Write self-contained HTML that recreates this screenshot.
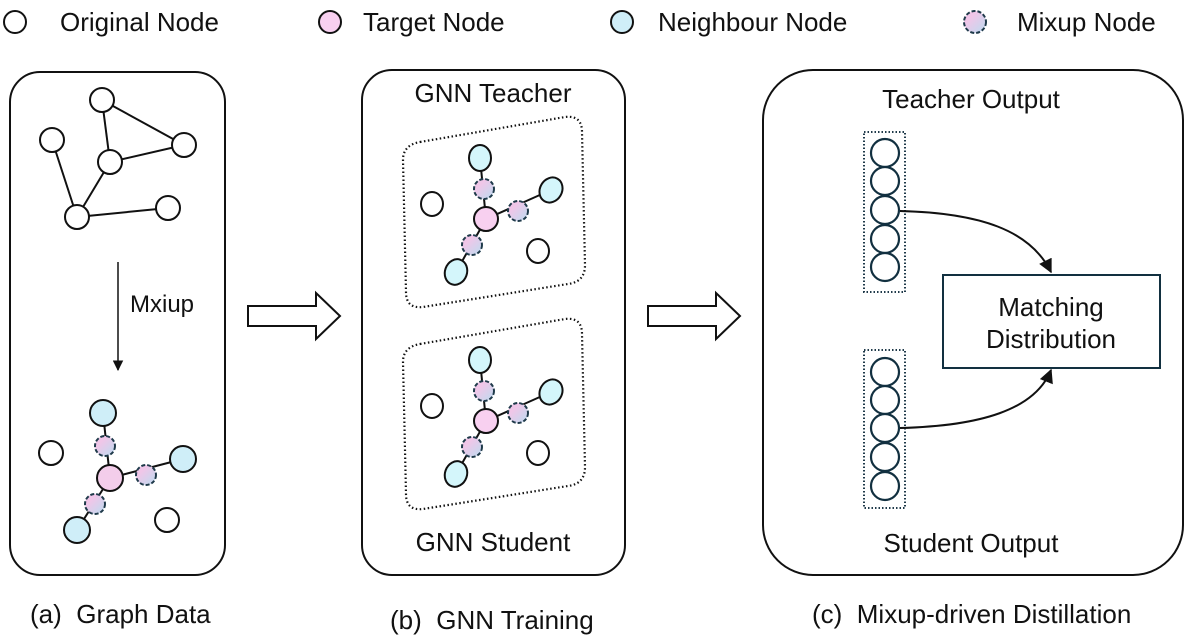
<!DOCTYPE html>
<html><head><style>
html,body{margin:0;padding:0;background:#fff}
svg text{font-family:"Liberation Sans",Arial,sans-serif;fill:#111}
</style></head><body>
<svg width="1194" height="638" viewBox="0 0 1194 638" xmlns="http://www.w3.org/2000/svg">
<defs>
<linearGradient id="mx" x1="0" y1="0" x2="1" y2="1">
<stop offset="0.3" stop-color="#f0c6e8"/><stop offset="1" stop-color="#bcdcf0"/>
</linearGradient>
<marker id="ah" viewBox="0 0 10 10" refX="9" refY="5" markerWidth="7" markerHeight="7" orient="auto"><path d="M0,0 L10,5 L0,10 z" fill="#111"/></marker>
<g id="star">
<line x1="480" y1="158" x2="486" y2="219" stroke="#111" stroke-width="2"/>
<line x1="486" y1="219" x2="551" y2="190" stroke="#111" stroke-width="2"/>
<line x1="486" y1="219" x2="456" y2="272" stroke="#111" stroke-width="2"/>
<ellipse cx="480" cy="158" rx="11" ry="13" fill="#d4f6fb" stroke="#111" stroke-width="2"/>
<ellipse cx="551" cy="190" rx="11" ry="13" fill="#d4f6fb" stroke="#111" stroke-width="2" transform="rotate(30 551 190)"/>
<ellipse cx="456" cy="272" rx="11" ry="13" fill="#d4f6fb" stroke="#111" stroke-width="2" transform="rotate(20 456 272)"/>
<ellipse cx="432" cy="204" rx="11" ry="12" fill="#fff" stroke="#111" stroke-width="2"/>
<ellipse cx="538" cy="251" rx="11" ry="12" fill="#fff" stroke="#111" stroke-width="2"/>
<circle cx="486" cy="219" r="12" fill="#f8d0f0" stroke="#111" stroke-width="2"/>
<circle cx="484" cy="189" r="10" fill="url(#mx)" stroke="#1f3a4a" stroke-width="2" stroke-dasharray="4 2"/>
<circle cx="518" cy="211" r="10" fill="url(#mx)" stroke="#1f3a4a" stroke-width="2" stroke-dasharray="4 2"/>
<circle cx="472" cy="245" r="10" fill="url(#mx)" stroke="#1f3a4a" stroke-width="2" stroke-dasharray="4 2"/>
<path d="M420,142 L565,117 Q582,115 582,132 L585,265 Q585,282 568,284 L423,307 Q406,309 406,292 L403,160 Q403,145 420,142 Z" fill="none" stroke="#111" stroke-width="2.2" stroke-dasharray="1.5 2.5"/>
</g>
</defs>

<!-- legend -->
<g stroke="#111" stroke-width="2">
<circle cx="15" cy="22" r="11" fill="#fff"/>
<circle cx="330" cy="22" r="11" fill="#f8d0f0"/>
<circle cx="622" cy="22" r="11" fill="#cfeef8"/>
<circle cx="975" cy="22" r="11" fill="url(#mx)" stroke="#1f3a4a" stroke-dasharray="4 2"/>
</g>
<g font-size="26">
<text x="60" y="31">Original Node</text>
<text x="363" y="31">Target Node</text>
<text x="658" y="31">Neighbour Node</text>
<text x="1017" y="31">Mixup Node</text>
</g>

<!-- panel a -->
<rect x="10" y="72" width="215" height="503" rx="30" fill="none" stroke="#111" stroke-width="2"/>
<g stroke="#111" stroke-width="2">
<line x1="52" y1="140" x2="77" y2="217"/>
<line x1="102" y1="100" x2="110" y2="162"/>
<line x1="102" y1="100" x2="184" y2="145"/>
<line x1="110" y1="162" x2="184" y2="145"/>
<line x1="110" y1="162" x2="77" y2="217"/>
<line x1="77" y1="217" x2="168" y2="208"/>
<g fill="#fff">
<circle cx="52" cy="140" r="12"/><circle cx="102" cy="100" r="12"/><circle cx="110" cy="162" r="12"/>
<circle cx="184" cy="145" r="12"/><circle cx="77" cy="217" r="12"/><circle cx="168" cy="208" r="12"/>
</g>
<line x1="118" y1="262" x2="118" y2="370" stroke-width="1.5" marker-end="url(#ah)"/>
<line x1="103" y1="413" x2="110" y2="478"/>
<line x1="110" y1="478" x2="183" y2="459"/>
<line x1="110" y1="478" x2="77" y2="530"/>
<g fill="#cfeef8"><circle cx="103" cy="413" r="13"/><circle cx="183" cy="459" r="13"/><circle cx="77" cy="530" r="13"/></g>
<g fill="#fff"><circle cx="51" cy="453" r="12"/><circle cx="167" cy="520" r="12"/></g>
<circle cx="110" cy="478" r="13" fill="#f3cdea"/>
<g fill="url(#mx)" stroke="#1f3a4a" stroke-dasharray="4 2">
<circle cx="105" cy="446" r="10"/><circle cx="146" cy="475" r="10"/><circle cx="95" cy="504" r="10"/>
</g>
</g>
<text x="130" y="312" font-size="24">Mxiup</text>

<!-- arrows -->
<path d="M248,306 L316,306 L316,293 L340,316 L316,339 L316,326 L248,326 Z" fill="#fff" stroke="#111" stroke-width="2"/>
<path d="M648,306 L716,306 L716,293 L740,316 L716,339 L716,326 L648,326 Z" fill="#fff" stroke="#111" stroke-width="2"/>

<!-- panel b -->
<rect x="362" y="70" width="263" height="505" rx="30" fill="none" stroke="#111" stroke-width="2"/>
<text x="493" y="102" font-size="26" text-anchor="middle">GNN Teacher</text>
<use href="#star"/>
<use href="#star" transform="translate(0,202)"/>
<text x="493" y="551" font-size="26" text-anchor="middle">GNN Student</text>

<!-- panel c -->
<rect x="763" y="70" width="420" height="505" rx="50" fill="none" stroke="#111" stroke-width="2"/>
<text x="971" y="108" font-size="26" text-anchor="middle">Teacher Output</text>
<text x="971" y="552" font-size="26" text-anchor="middle">Student Output</text>
<rect x="864" y="132" width="41" height="160" fill="none" stroke="#1f3a4a" stroke-width="2" stroke-dasharray="1.5 2"/>
<rect x="864" y="350" width="41" height="158" fill="none" stroke="#1f3a4a" stroke-width="2" stroke-dasharray="1.5 2"/>
<g fill="#fff" stroke="#123040" stroke-width="2.2">
<circle cx="885" cy="153" r="14"/><circle cx="885" cy="181" r="14"/><circle cx="885" cy="210" r="14"/><circle cx="885" cy="239" r="14"/><circle cx="885" cy="267" r="14"/>
<circle cx="885" cy="372" r="14"/><circle cx="885" cy="400" r="14"/><circle cx="885" cy="428" r="14"/><circle cx="885" cy="457" r="14"/><circle cx="885" cy="486" r="14"/>
</g>
<rect x="943" y="275" width="217" height="93" fill="#fff" stroke="#123040" stroke-width="2"/>
<text x="1051" y="316" font-size="26" text-anchor="middle">Matching</text>
<text x="1051" y="348" font-size="26" text-anchor="middle">Distribution</text>
<path d="M900,211 C980,213 1030,230 1051,272" fill="none" stroke="#111" stroke-width="2" marker-end="url(#ah)"/>
<path d="M900,428 C980,426 1035,410 1051,370" fill="none" stroke="#111" stroke-width="2" marker-end="url(#ah)"/>

<!-- captions -->
<g font-size="26">
<text x="30" y="623">(a)&#160;&#160;Graph Data</text>
<text x="390" y="629">(b)&#160;&#160;GNN Training</text>
<text x="812" y="623">(c)&#160;&#160;Mixup-driven Distillation</text>
</g>
</svg>
</body></html>
